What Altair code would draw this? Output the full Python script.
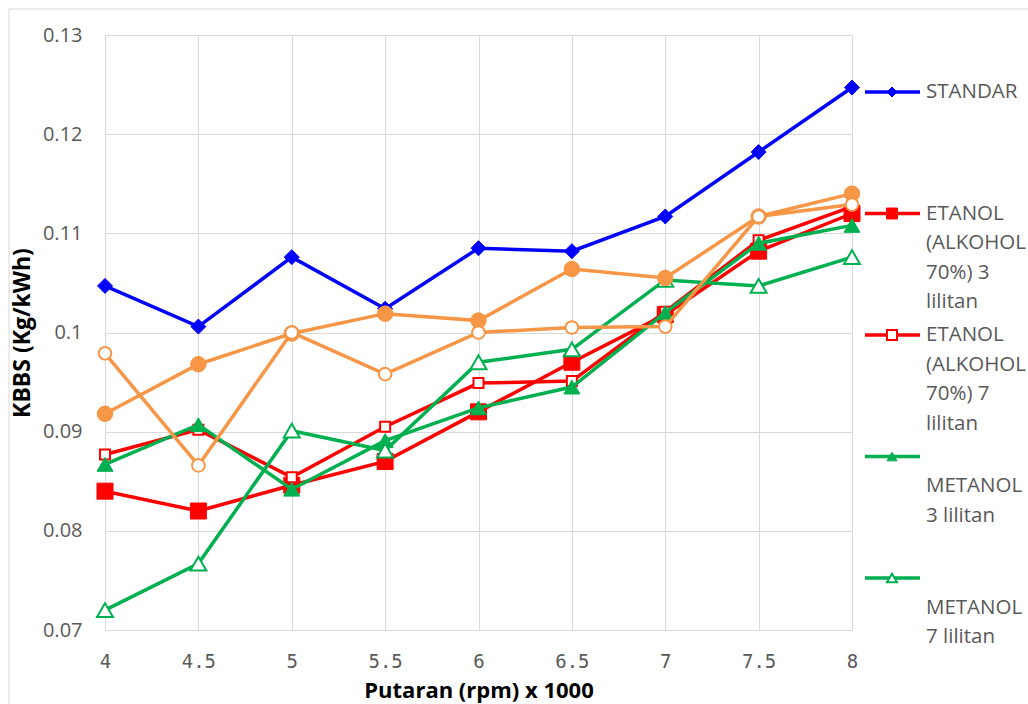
import altair as alt
import pandas as pd

# ---- data ----
rpm = [4, 4.5, 5, 5.5, 6, 6.5, 7, 7.5, 8]
series_names = [
    "STANDAR",
    "ETANOL (ALKOHOL 70%) 3 lilitan",
    "ETANOL (ALKOHOL 70%) 7 lilitan",
    "METANOL 3 lilitan",
    "METANOL 7 lilitan",
    "Seri 6",
    "Seri 7",
]
standar = [0.1047, 0.1006, 0.1076, 0.1024, 0.1085, 0.1082, 0.1117, 0.1182, 0.1247]
etanol3 = [0.0840, 0.0820, 0.0846, 0.0870, 0.0920, 0.0970, 0.1018, 0.1082, 0.1120]
etanol7 = [0.0877, 0.0902, 0.0854, 0.0905, 0.0949, 0.0951, 0.1021, 0.1093, 0.1127]
metanol3 = [0.0867, 0.0907, 0.0842, 0.0891, 0.0924, 0.0945, 0.1020, 0.1090, 0.1108]
metanol7 = [0.0720, 0.0767, 0.0901, 0.0881, 0.0970, 0.0983, 0.1053, 0.1047, 0.1076]
seri6 = [0.0918, 0.0968, 0.0999, 0.1019, 0.1012, 0.1064, 0.1055, 0.1117, 0.1140]
seri7 = [0.0979, 0.0866, 0.1000, 0.0958, 0.1000, 0.1005, 0.1006, 0.1117, 0.1129]
all_values = [standar, etanol3, etanol7, metanol3, metanol7, seri6, seri7]

legend_names = series_names[:5]
legend_labels = [
    "STANDAR",
    "ETANOL\n(ALKOHOL\n70%) 3\nlilitan",
    "ETANOL\n(ALKOHOL\n70%) 7\nlilitan",
    "\nMETANOL\n3 lilitan",
    "\nMETANOL\n7 lilitan",
]
y_ticks = [0.07, 0.08, 0.09, 0.10, 0.11, 0.12, 0.13]
x_ticks = [4, 4.5, 5, 5.5, 6, 6.5, 7, 7.5, 8]

# ---- styles (kept separate from the data) ----
BLUE, RED, GREEN, ORANGE = "#0000FF", "#FF0000", "#00B050", "#F79646"
styles = {
    "STANDAR": dict(color=BLUE, shape="diamond", open=False, size=225),
    "ETANOL (ALKOHOL 70%) 3 lilitan": dict(color=RED, shape="square", open=False, size=256),
    "ETANOL (ALKOHOL 70%) 7 lilitan": dict(color=RED, shape="square", open=True, size=100),
    "METANOL 3 lilitan": dict(color=GREEN, shape="triangle-up", open=False, size=256),
    "METANOL 7 lilitan": dict(color=GREEN, shape="triangle-up", open=True, size=256),
    "Seri 6": dict(color=ORANGE, shape="circle", open=False, size=240),
    "Seri 7": dict(color=ORANGE, shape="circle", open=True, size=160),
}

rows = []
for name, vals in zip(series_names, all_values):
    for x, v in zip(rpm, vals):
        rows.append({"rpm": x, "kbbs": v, "series": name})
df = pd.DataFrame(rows)

leg_df = pd.DataFrame({
    "series": legend_names,
    "label": legend_labels,
    "slot": list(range(len(legend_names))),
})

W, H = 747, 595
LABEL_COLOR = "#595959"

xenc = alt.X(
    "rpm:Q",
    scale=alt.Scale(domain=[4, 8], nice=False, zero=False),
    axis=alt.Axis(
        values=x_ticks, format="~g", title="Putaran (rpm) x 1000",
        grid=True, gridColor="#D9D9D9", gridWidth=1,
        domain=False, ticks=False, labelFlush=False,
        labelFont="DejaVu Sans Mono", labelFontSize=19, labelColor=LABEL_COLOR,
        labelPadding=22,
        titleFont="Open Sans", titleFontSize=22, titleFontWeight="bold", titleColor="#000000",
        titleX=W / 2, titleY=60, titleBaseline="middle",
    ),
)
yenc = alt.Y(
    "kbbs:Q",
    scale=alt.Scale(domain=[0.07, 0.13], nice=False, zero=False),
    axis=alt.Axis(
        values=y_ticks, format="~g", title="KBBS (Kg/kWh)",
        grid=True, gridColor="#D9D9D9", gridWidth=1,
        domain=False, ticks=False, labelFlush=False,
        labelFont="Open Sans", labelFontSize=20, labelColor=LABEL_COLOR,
        labelPadding=23,
        titleFont="Open Sans", titleFontSize=23, titleFontWeight="bold", titleColor="#000000",
        titleX=-83, titleY=H / 2, titleBaseline="middle",
    ),
)

base = alt.Chart(df)
main_layers = []
for name in series_names:
    st = styles[name]
    sub = base.transform_filter(alt.datum.series == name)
    line = sub.mark_line(color=st["color"], strokeWidth=3.5).encode(x=xenc, y=yenc)
    pt = sub.mark_point(
        shape=st["shape"], size=st["size"], filled=True, opacity=1,
        fill="#FFFFFF" if st["open"] else st["color"],
        stroke=st["color"], strokeWidth=2 if st["open"] else 1,
    ).encode(x=xenc, y=yenc)
    main_layers += [line, pt]
main = alt.layer(*main_layers)

# ---- legend on the right ----
yleg = alt.Y("slot:Q", scale=alt.Scale(domain=[0, 4], range=[57, 543]), axis=None)
lbase = alt.Chart(leg_df)
legend_layers = []
for name in legend_names:
    st = styles[name]
    sub = lbase.transform_filter(alt.datum.series == name)
    legend_layers.append(
        sub.mark_rule(color=st["color"], strokeWidth=3.5).encode(
            x=alt.value(760), x2=alt.value(815), y=yleg)
    )
    legend_layers.append(
        sub.mark_point(
            shape=st["shape"], size=100 if st["shape"] != "square" or st["open"] else 120,
            filled=True, opacity=1,
            fill="#FFFFFF" if st["open"] else st["color"],
            stroke=st["color"], strokeWidth=2 if st["open"] else 1,
        ).encode(x=alt.value(787), y=yleg)
    )
legend_layers.append(
    lbase.mark_text(
        align="left", baseline="line-top", lineBreak="\n", lineHeight=29.5,
        dy=-14.75, font="Open Sans", fontSize=20.5, color=LABEL_COLOR,
    ).encode(x=alt.value(821), y=yleg, text="label:N")
)
legend = alt.layer(*legend_layers)

border = alt.Chart(alt.Data(values=[{}])).mark_rect(
    fill="transparent", stroke="#D9D9D9", strokeWidth=1
).encode(
    x=alt.value(-96), x2=alt.value(W + 200), y=alt.value(-26), y2=alt.value(H + 120)
)

chart = alt.layer(border, main, legend).resolve_scale(y="independent").properties(
    width=W, height=H,
    autosize=alt.AutoSizeParams(type="none"),
    padding={"left": 105, "top": 35, "right": 176, "bottom": 74},
    background="#FFFFFF",
).configure_view(strokeWidth=0)

chart.save("out.html", embed_options={"renderer": "svg", "actions": False})
